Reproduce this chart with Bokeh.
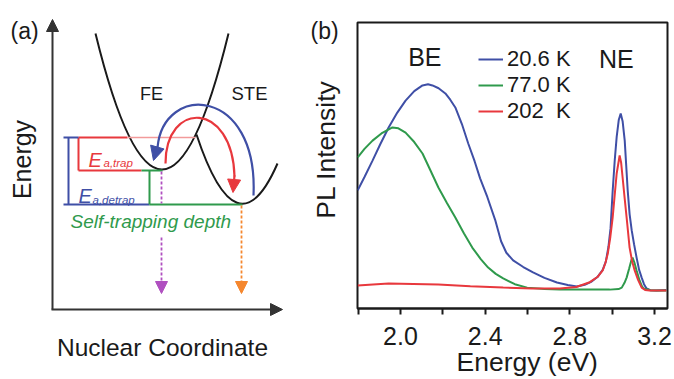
import math
from bokeh.plotting import figure
from bokeh.models import (Range1d, Label, Arrow, NormalHead, FixedTicker, Legend,
                          LegendItem, PrintfTickFormatter)
from bokeh.layouts import row
from bokeh.embed import file_html
from bokeh.resources import INLINE

FONT = "Liberation Sans"
BLUE = "#3f4fa6"
GREEN = "#2f9a4c"
RED = "#e8383d"
MAGENTA = "#b050c0"
ORANGE = "#f5872e"
INK = "#1a1a1a"

# ---------------- panel (b) data: PL spectra ----------------
blue_E = [1.798, 1.83, 1.868, 1.905, 1.944, 1.985, 2.024, 2.065, 2.104, 2.13, 2.151, 2.18,
          2.212, 2.235, 2.259, 2.29, 2.32, 2.35, 2.376, 2.41, 2.447, 2.475, 2.50, 2.532,
          2.58, 2.626, 2.68, 2.739, 2.79, 2.833, 2.87, 2.90, 2.93, 2.955, 2.97, 2.982,
          2.992, 3.002, 3.012, 3.021, 3.031, 3.040, 3.049, 3.059, 3.066, 3.073, 3.082,
          3.092, 3.103, 3.115, 3.127, 3.139, 3.150, 3.162, 3.18, 3.209, 3.256]
blue_I = [0.413, 0.46, 0.517, 0.575, 0.633, 0.685, 0.727, 0.760, 0.780, 0.784, 0.780, 0.770,
          0.752, 0.730, 0.703, 0.645, 0.577, 0.515, 0.455, 0.39, 0.31, 0.235, 0.195, 0.168,
          0.145, 0.126, 0.107, 0.091, 0.082, 0.077, 0.083, 0.093, 0.110, 0.135, 0.165, 0.215,
          0.28, 0.41, 0.52, 0.60, 0.66, 0.682, 0.655, 0.587, 0.50, 0.413, 0.33,
          0.273, 0.225, 0.178, 0.135, 0.108, 0.085, 0.070, 0.064, 0.063, 0.065]

green_E = [1.798, 1.83, 1.868, 1.91, 1.962, 1.99, 2.024, 2.065, 2.104, 2.14, 2.179, 2.22,
           2.259, 2.30, 2.339, 2.38, 2.414, 2.45, 2.485, 2.54, 2.598, 2.68, 2.753, 2.894,
           2.988, 3.03, 3.045, 3.058, 3.068, 3.08, 3.09, 3.096, 3.105, 3.115, 3.129, 3.14,
           3.148, 3.18, 3.209, 3.256]
green_I = [0.528, 0.558, 0.587, 0.612, 0.633, 0.630, 0.615, 0.582, 0.542, 0.485, 0.423, 0.368,
           0.318, 0.262, 0.213, 0.172, 0.143, 0.121, 0.105, 0.085, 0.073, 0.068, 0.066, 0.066,
           0.066, 0.068, 0.073, 0.090, 0.108, 0.140, 0.168, 0.178, 0.160, 0.133, 0.098, 0.078,
           0.070, 0.064, 0.063, 0.063]

red_E = [1.798, 1.87, 1.944, 2.06, 2.179, 2.33, 2.485, 2.62, 2.753, 2.83, 2.894, 2.93, 2.955,
         2.968, 2.979, 2.991, 3.002, 3.012, 3.021, 3.035, 3.042, 3.049, 3.058, 3.068, 3.082,
         3.094, 3.106, 3.122, 3.139, 3.155, 3.176, 3.256]
red_I = [0.080, 0.084, 0.087, 0.086, 0.084, 0.078, 0.073, 0.070, 0.070, 0.075, 0.092, 0.110,
         0.133, 0.160, 0.192, 0.250, 0.318, 0.40, 0.472, 0.535, 0.51, 0.458, 0.39, 0.318,
         0.213, 0.165, 0.133, 0.100, 0.073, 0.065, 0.063, 0.063]

series_labels = ["20.6 K", "77.0 K", "202\u00a0\u00a0K"]
x_major_ticks = [2.0, 2.4, 2.8, 3.2]
x_minor_ticks = [1.8, 2.2, 2.6, 3.0]
peak_labels = ["BE", "NE"]
peak_pos_E = [2.115, 3.019]
peak_pos_I = [0.878, 0.874]

# ---------------- panel (a) schematic (figure coordinates) ----------------
well_x0 = [95, 196]
well_y0 = [33, 134]
well_x1 = [228, 277]
well_y1 = [33, 163]
well_cx = [161.5, 236.5]
well_cy = [305, 256]

seg_x0 = [78, 127, 78, 78, 63, 68, 63, 141, 149, 149]
seg_y0 = [137, 137, 137, 170, 137, 137, 204, 170, 170, 204]
seg_x1 = [127, 195, 78, 141, 78, 68, 149, 162, 149, 242]
seg_y1 = [137, 137, 170, 170, 137, 204, 204, 170, 204, 204]
seg_col = [RED, "#f29a9a", RED, RED, BLUE, BLUE, BLUE, GREEN, GREEN, GREEN]
seg_w = [2, 1.3, 2, 2, 2, 2, 2, 2, 2, 2]

W, H = 674, 379
WA = 345

# ---------------- panel (a) ----------------
pa = figure(width=WA, height=H, x_range=Range1d(0, WA), y_range=Range1d(H, 0),
            output_backend="svg", toolbar_location=None, min_border=0, frame_align=False)
pa.axis.visible = False
pa.grid.visible = False
pa.outline_line_color = None

pa.quadratic(x0=well_x0, y0=well_y0, x1=well_x1, y1=well_y1, cx=well_cx, cy=well_cy,
             line_color=INK, line_width=2)
pa.segment(x0=seg_x0, y0=seg_y0, x1=seg_x1, y1=seg_y1, line_color=seg_col, line_width=seg_w)

pa.bezier(x0=[253], y0=[195], x1=[157], y1=[147], cx0=[258], cy0=[86], cx1=[163], cy1=[82],
          line_color=BLUE, line_width=2.2)
pa.add_layout(Arrow(x_start=157, y_start=146, x_end=153, y_end=160, line_color=BLUE, line_width=2.2,
                    end=NormalHead(size=14, fill_color=BLUE, line_color=BLUE)))
pa.bezier(x0=[165], y0=[163], x1=[234], y1=[176], cx0=[165], cy0=[100], cx1=[232], cy1=[100],
          line_color=RED, line_width=2.2)
pa.add_layout(Arrow(x_start=234, y_start=175, x_end=232.5, y_end=192, line_color=RED, line_width=2.2,
                    end=NormalHead(size=13, fill_color=RED, line_color=RED)))

pa.segment(x0=[161], y0=[171], x1=[161], y1=[203], line_color=MAGENTA, line_width=1.8, line_dash="3 2")
pa.add_layout(Arrow(x_start=161, y_start=237, x_end=161, y_end=293, line_color=MAGENTA, line_width=1.8,
                    line_dash="3 2", end=NormalHead(size=12, fill_color=MAGENTA, line_color=MAGENTA)))
pa.add_layout(Arrow(x_start=241, y_start=205, x_end=241, y_end=293, line_color=ORANGE, line_width=1.8,
                    line_dash="3 2", end=NormalHead(size=12, fill_color=ORANGE, line_color=ORANGE)))

pa.add_layout(Arrow(x_start=52, y_start=309, x_end=52, y_end=19, line_color="#333333", line_width=2,
                    end=NormalHead(size=12, fill_color="#333333", line_color="#333333")))
pa.add_layout(Arrow(x_start=51, y_start=309, x_end=282, y_end=309, line_color="#333333", line_width=2,
                    end=NormalHead(size=12, fill_color="#333333", line_color="#333333")))


def lab(p, x, y, text, size, color=INK, align="center", baseline="middle", angle=0, style="normal"):
    p.add_layout(Label(x=x, y=y, text=text, text_font=FONT, text_font_size=f"{size}px",
                       text_color=color, text_align=align, text_baseline=baseline,
                       angle=angle, text_font_style=style))


lab(pa, 10, 30, "(a)", 23, align="left")
lab(pa, 21, 159, "Energy", 25, angle=math.pi / 2)
lab(pa, 162, 347, "Nuclear Coordinate", 24.5)
lab(pa, 151, 93, "FE", 18)
lab(pa, 249, 93, "STE", 18.5)
lab(pa, 70, 221, "Self-trapping depth", 19, color=GREEN, align="left", style="italic")
lab(pa, 88, 159, "E", 20, color=RED, align="left", baseline="alphabetic", style="italic")
lab(pa, 103, 162, "a,trap", 11.5, color=RED, align="left", baseline="alphabetic", style="italic")
lab(pa, 78, 195, "E", 20, color=BLUE, align="left", baseline="alphabetic", style="italic")
lab(pa, 92, 199, "a,detrap", 11.5, color=BLUE, align="left", baseline="alphabetic", style="italic")
# labels of panel (b) that sit left of its frame
lab(pa, 310, 30, "(b)", 23, align="left")
lab(pa, 325, 149, "PL Intensity", 26.5, angle=math.pi / 2)

# ---------------- panel (b) ----------------
pb = figure(width=W - WA, height=H, x_range=Range1d(1.797, 3.261), y_range=Range1d(0, 1),
            output_backend="svg", toolbar_location=None, frame_align=False,
            min_border_left=12, min_border_right=7, min_border_top=22, min_border_bottom=71)
pb.grid.visible = False
pb.yaxis.visible = False
pb.outline_line_color = INK
pb.outline_line_width = 2
ax = pb.xaxis[0]
ax.ticker = FixedTicker(ticks=x_major_ticks, minor_ticks=x_minor_ticks)
ax.formatter = PrintfTickFormatter(format="%.1f")
ax.axis_line_color = INK
ax.axis_line_width = 2
ax.major_tick_in = 0
ax.major_tick_out = 6
ax.minor_tick_in = 0
ax.minor_tick_out = 6
ax.major_tick_line_width = 2
ax.minor_tick_line_width = 2
ax.major_tick_line_color = INK
ax.minor_tick_line_color = INK
ax.major_label_text_font = FONT
ax.major_label_text_font_size = "25px"
ax.major_label_text_color = INK
ax.major_label_standoff = 12
ax.axis_label = "\u00a0\u00a0\u00a0\u00a0Energy (eV)"
ax.axis_label_text_font = FONT
ax.axis_label_text_font_size = "26.5px"
ax.axis_label_text_font_style = "normal"
ax.axis_label_text_color = INK
ax.axis_label_standoff = -1

rb = pb.line(blue_E, blue_I, line_color=BLUE, line_width=2)
rg = pb.line(green_E, green_I, line_color=GREEN, line_width=2)
rr = pb.line(red_E, red_I, line_color=RED, line_width=2)

leg = Legend(items=[LegendItem(label=series_labels[0], renderers=[rb]),
                    LegendItem(label=series_labels[1], renderers=[rg]),
                    LegendItem(label=series_labels[2], renderers=[rr])],
             location=(121, 184), orientation="vertical", glyph_width=25, glyph_height=20,
             label_height=20, label_standoff=4, spacing=0, padding=0, margin=0,
             border_line_color=None, background_fill_alpha=0,
             label_text_font=FONT, label_text_font_size="22px", label_text_color=INK)
pb.add_layout(leg)

for t, e, i in zip(peak_labels, peak_pos_E, peak_pos_I):
    lab(pb, e, i, t, 25)

layout = row(pa, pb)
open("out.html", "w").write(file_html(layout, INLINE))
